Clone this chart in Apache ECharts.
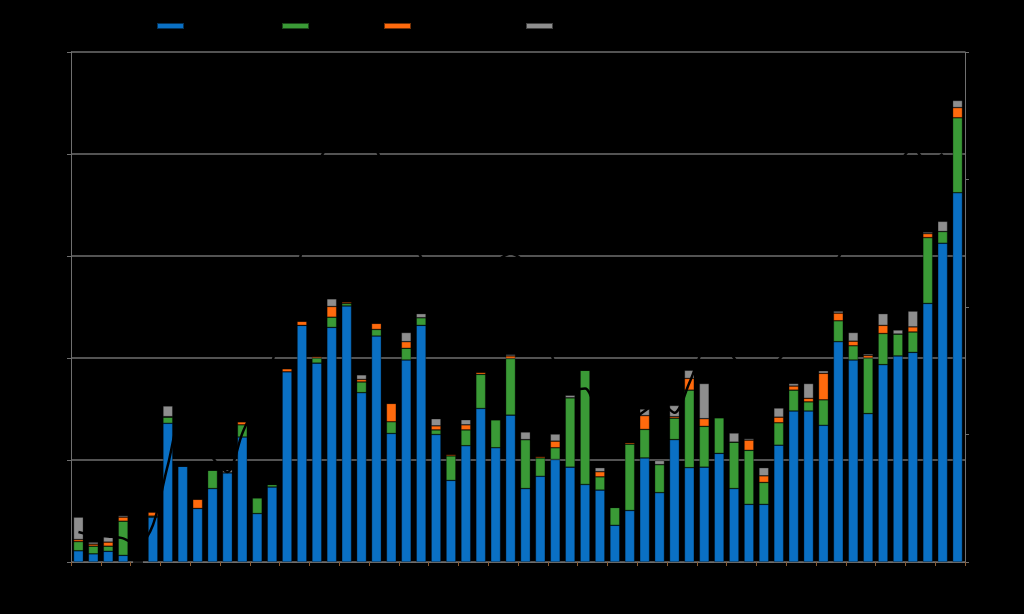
<!DOCTYPE html>
<html>
<head>
<meta charset="utf-8">
<script src="https://cdn.jsdelivr.net/npm/echarts@6/dist/echarts.min.js"></script>
<style>html,body{margin:0;padding:0;background:#000;}#c{width:1024px;height:614px;}</style>
</head>
<body>
<div id="c"></div>
<script>
var categories = ['1','2','3','4','5','6','7','8','9','10','11','12','13','14','15','16','17','18','19','20','21','22','23','24','25','26','27','28','29','30','31','32','33','34','35','36','37','38','39','40','41','42','43','44','45','46','47','48','49','50','51','52','53','54','55','56','57','58','59','60'];
var seriesNames = ['Series 1', 'Series 2', 'Series 3', 'Series 4', 'Total'];
var blueValues = [1.1,0.8,1.05,0.65,0,4.4,13.6,9.4,5.25,7.2,8.75,12.25,4.75,7.35,18.65,23.2,19.5,23.0,25.1,16.6,22.15,12.6,19.8,23.2,12.5,8.0,11.4,15.05,11.2,14.4,7.2,8.4,10.05,9.3,7.6,7.05,3.6,5.05,10.2,6.8,12.0,9.25,9.3,10.65,7.2,5.65,5.65,11.45,14.8,14.8,13.4,21.6,19.8,14.55,19.35,20.2,20.55,25.35,31.25,36.2];
var greenValues = [0.9,0.75,0.5,3.35,0,0.1,0.6,0,0,1.8,0,1.2,1.55,0.25,0,0,0.5,1.0,0.25,1.05,0.65,1.15,1.15,0.75,0.45,2.4,1.55,3.35,2.75,5.55,4.8,1.8,1.15,6.8,11.2,1.3,1.75,6.5,2.8,2.75,2.1,7.6,4.0,3.5,4.55,5.3,2.15,2.2,2.05,0.9,2.5,2.05,1.4,5.45,3.05,2.15,2.0,6.45,1.15,7.35];
var orangeValues = [0.2,0.2,0.4,0.4,0,0.4,0.05,0,0.9,0,0,0.3,0,0,0.3,0.4,0.15,1.05,0.15,0.25,0.6,1.8,0.65,0,0.4,0.15,0.5,0.2,0,0.25,0,0.15,0.65,0,0,0.5,0,0.15,1.35,0,0.15,1.15,0.75,0,0,1.0,0.65,0.55,0.4,0.35,2.6,0.75,0.45,0.25,0.8,0,0.5,0.4,0,1.0];
var grayValues = [2.2,0.2,0.55,0.15,0,0,1.05,0,0,0,0.3,0,0,0,0,0,0,0.75,0,0.45,0,0,0.9,0.4,0.7,0,0.5,0,0,0.15,0.75,0,0.7,0.25,0,0.4,0,0,0.65,0.4,1.1,0.8,3.45,0,0.9,0.15,0.8,0.9,0.25,1.45,0.25,0.2,0.85,0.15,1.15,0.4,1.55,0.15,1.0,0.7];
var lineValues = [2.35,2.1,2.0,1.85,1.3,2.9,7.6,11.5,10.5,8.2,7.05,10.1,12.7,15.7,19.8,24.5,30.9,33.1,34.0,33.6,32.3,29.2,26.1,23.9,22.1,21.35,21.75,22.5,23.55,24.2,23.3,19.0,15.5,13.5,13.6,11.15,10.2,10.95,11.85,12.55,11.7,14.05,16.8,17.4,16.0,14.65,14.9,15.85,17.4,19.15,21.35,23.85,26.05,28.0,30.0,31.2,32.5,31.3,32.0,null];
var leftTicks = [0, 50, 10];
var rightTicks = [0, 40, 10];

var colors = ['#0a70c4', '#3a9a36', '#ff6a0d', '#8e8e8e'];
var axisGray = '#6f6f6f';

function barSeries(name, data, color) {
  return {
    name: name, type: 'bar', stack: 'total', data: data, barWidth: '66%',
    itemStyle: { color: color, borderColor: 'rgba(0,0,0,0.55)', borderWidth: 0.6 },
    emphasis: { disabled: true }
  };
}
function legendAt(name, left) {
  return {
    data: [name], left: left, top: 15, icon: 'rect', itemWidth: 27, itemHeight: 6,
    textStyle: { color: '#000', fontSize: 12 }, selectedMode: false
  };
}

var chart = echarts.init(document.getElementById('c'));
chart.setOption({
  backgroundColor: '#000',
  animation: false,
  legend: [legendAt(seriesNames[0], 151), legendAt(seriesNames[1], 276), legendAt(seriesNames[2], 378), legendAt(seriesNames[3], 520)],
  grid: { left: 71, right: 59, top: 52, bottom: 52 },
  xAxis: {
    type: 'category', data: categories,
    axisLine: { lineStyle: { color: axisGray, width: 1 } },
    axisTick: { show: true, length: 4, lineStyle: { color: '#8a5a30' } },
    axisLabel: { color: '#000' }
  },
  yAxis: [
    {
      type: 'value', min: leftTicks[0], max: leftTicks[1], interval: leftTicks[2],
      axisLine: { show: true, lineStyle: { color: axisGray } },
      axisTick: { show: true, length: 4, lineStyle: { color: axisGray } },
      axisLabel: { color: '#000' },
      splitLine: { lineStyle: { color: axisGray, width: 1.5 } }
    },
    {
      type: 'value', min: rightTicks[0], max: rightTicks[1], interval: rightTicks[2], position: 'right',
      axisLine: { show: true, lineStyle: { color: axisGray } },
      axisTick: { show: true, length: 4, lineStyle: { color: axisGray } },
      axisLabel: { color: '#000' },
      splitLine: { show: false }
    }
  ],
  series: [
    barSeries(seriesNames[0], blueValues, colors[0]),
    barSeries(seriesNames[1], greenValues, colors[1]),
    barSeries(seriesNames[2], orangeValues, colors[2]),
    barSeries(seriesNames[3], grayValues, colors[3]),
    {
      name: seriesNames[4], type: 'line', yAxisIndex: 1, data: lineValues, smooth: 0.3,
      symbol: 'none', z: 5, lineStyle: { color: '#000', width: 2.5 }, itemStyle: { color: '#000' }
    }
  ]
});
</script>
</body>
</html>
